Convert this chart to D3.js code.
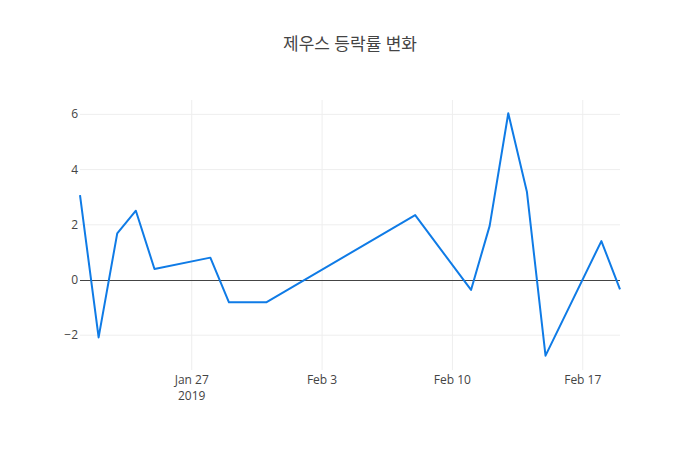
<!DOCTYPE html>
<html>
<head>
<meta charset="utf-8">
<script src="https://cdn.jsdelivr.net/npm/d3@7"></script>
<style>
  body { margin: 0; background: #fff; }
  svg { font-family: "Open Sans", "Noto Sans CJK KR", sans-serif; }
</style>
</head>
<body>
<svg id="chart" width="700" height="450"></svg>
<script>
// trading days and daily change (%)
const dates = ["2019-01-21","2019-01-22","2019-01-23","2019-01-24","2019-01-25",
  "2019-01-28","2019-01-29","2019-01-31","2019-02-08","2019-02-11",
  "2019-02-12","2019-02-13","2019-02-14","2019-02-15","2019-02-18","2019-02-19"]
const changes = [3.07, -2.08, 1.69, 2.51, 0.40, 0.81, -0.81, -0.81, 2.35, -0.36,
  1.96, 6.04, 3.20, -2.74, 1.41, -0.34]
const yTicks = [-2, 0, 2, 4, 6]
const xTicks = ["2019-01-27","2019-02-03","2019-02-10","2019-02-17"]
const title = "제우스 등락률 변화"

const parse = d3.timeParse("%Y-%m-%d")
const data = dates.map((d,i) => ({date: parse(d), v: changes[i]}))

const W = 700, H = 450
const m = {l: 80, r: 80, t: 100, b: 80}
const svg = d3.select("#chart")

let x = d3.scaleTime()
  .domain(d3.extent(data, d => d.date))
  .range([m.l, W - m.r])
let y = d3.scaleLinear()
  .domain([-3.26, 6.52])
  .range([H - m.b, m.t])

//grid
svg.append("g").selectAll("line")
  .data(xTicks.map(parse)).enter().append("line")
  .attr("x1", d => x(d)).attr("x2", d => x(d))
  .attr("y1", m.t).attr("y2", H - m.b)
  .attr("stroke", "#eee")
svg.append("g").selectAll("line")
  .data(yTicks.filter(d => d !== 0)).enter().append("line")
  .attr("x1", m.l).attr("x2", W - m.r)
  .attr("y1", d => y(d)).attr("y2", d => y(d))
  .attr("stroke", "#eee")

//zero line
svg.append("line")
  .attr("x1", m.l).attr("x2", W - m.r)
  .attr("y1", Math.round(y(0)) + 0.5).attr("y2", Math.round(y(0)) + 0.5)
  .attr("stroke", "#444").attr("stroke-width", 1)

//axes labels
let fmt = d3.timeFormat("%b %-d")
svg.append("g").selectAll("text")
  .data(xTicks.map(parse)).enter().append("text")
  .attr("x", d => x(d)).attr("y", H - m.b + 14)
  .attr("text-anchor", "middle")
  .attr("font-size", 12).attr("fill", "#444")
  .text(d => fmt(d))
svg.append("text")
  .attr("x", x(parse(xTicks[0]))).attr("y", H - m.b + 30)
  .attr("text-anchor", "middle")
  .attr("font-size", 12).attr("fill", "#444")
  .text("2019")

svg.append("g").selectAll("text")
  .data(yTicks).enter().append("text")
  .attr("x", m.l - 2).attr("y", d => y(d) + 4)
  .attr("text-anchor", "end")
  .attr("font-size", 12).attr("fill", "#444")
  .text(d => d < 0 ? "\u2212" + Math.abs(d) : d)

//line
let line = d3.line().x(d => x(d.date)).y(d => y(d.v))
svg.append("path")
  .datum(data)
  .attr("d", line)
  .attr("fill", "none")
  .attr("stroke", "#0f7be6")
  .attr("stroke-width", 2)
  .attr("stroke-linejoin", "round")

//title
svg.append("text")
  .attr("x", W/2).attr("y", 50)
  .attr("text-anchor", "middle")
  .attr("font-size", 17).attr("fill", "#444")
  .text(title)
</script>
</body>
</html>
